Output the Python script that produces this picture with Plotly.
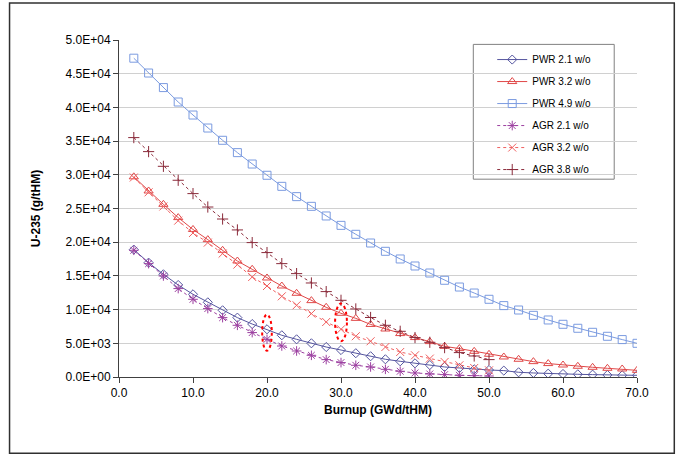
import plotly.graph_objects as go

# ---- data ----
burnup_pwr = [2, 4, 6, 8, 10, 12, 14, 16, 18, 20, 22, 24, 26, 28, 30, 32, 34, 36, 38, 40,
              42, 44, 46, 48, 50, 52, 54, 56, 58, 60, 62, 64, 66, 68, 70]
burnup_agr = [2, 4, 6, 8, 10, 12, 14, 16, 18, 20, 22, 24, 26, 28, 30, 32, 34, 36, 38, 40,
              42, 44, 46, 48, 50]

pwr_21 = [18900, 16970, 15240, 13650, 12270, 11080, 9900, 8810, 7860, 7080, 6190, 5590,
          5000, 4450, 4000, 3530, 3080, 2630, 2330, 2030, 1780, 1490, 1340, 1140, 1040,
          950, 700, 600, 500, 450, 400, 350, 300, 250, 250]
pwr_32 = [29700, 27600, 25620, 23650, 21890, 20380, 18800, 17210, 15980, 14690, 13500,
          12420, 11330, 10340, 9450, 8700, 7800, 7120, 6440, 5850, 5250, 4550, 4210, 3810,
          3370, 2970, 2630, 2280, 1990, 1780, 1590, 1440, 1290, 1190, 990]
pwr_49 = [47300, 45100, 42940, 40800, 38870, 36940, 35120, 33290, 31600, 29930, 28290,
          26760, 25320, 23890, 22500, 21170, 19880, 18650, 17510, 16470, 15430, 14350,
          13350, 12460, 11530, 10590, 9940, 9150, 8460, 7820, 7230, 6630, 6040, 5550, 5000]
agr_21 = [18800, 16820, 14990, 13120, 11530, 10150, 8810, 7670, 6590, 5590, 4600, 3860,
          3220, 2580, 2140, 1740, 1490, 1140, 850, 600, 450, 350, 250, 200, 150]
agr_32 = [29600, 27400, 25300, 23200, 21370, 19940, 18310, 16680, 14840, 13500, 11970,
          10640, 9410, 8160, 7080, 6050, 5300, 4450, 3710, 3220, 2730, 2230, 1740, 1340, 990]
agr_38 = [35520, 33440, 31260, 29190, 27210, 25220, 23440, 21820, 19940, 18460, 16820,
          15340, 13950, 12670, 11380, 10100, 8830, 7670, 6780, 5850, 5150, 4360, 3620,
          3120, 2580]

y_tickvals = [0, 5000, 10000, 15000, 20000, 25000, 30000, 35000, 40000, 45000, 50000]
y_ticktext = ["0.0E+00", "5.0E+03", "1.0E+04", "1.5E+04", "2.0E+04", "2.5E+04",
              "3.0E+04", "3.5E+04", "4.0E+04", "4.5E+04", "5.0E+04"]
x_tickvals = [0, 10, 20, 30, 40, 50, 60, 70]

series = [
    ("PWR 2.1 w/o", burnup_pwr, pwr_21, "#55559f", "diamond-open", "solid", 7),
    ("PWR 3.2 w/o", burnup_pwr, pwr_32, "#e04848", "triangle-up-open", "solid", 8),
    ("PWR 4.9 w/o", burnup_pwr, pwr_49, "#7b9be0", "square-open", "solid", 8),
    ("AGR 2.1 w/o", burnup_agr, agr_21, "#9c3fa0", "asterisk-open", "dot", 8),
    ("AGR 3.2 w/o", burnup_agr, agr_32, "#f06060", "x-thin-open", "dot", 8),
    ("AGR 3.8 w/o", burnup_agr, agr_38, "#8a2a3a", "cross-thin-open", "dot", 8),
]

fig = go.Figure()
for i, (name, xs, ys, col, sym, dash, sz) in enumerate(series):
    fig.add_trace(go.Scatter(
        x=xs, y=ys, name=name, mode="lines+markers",
        legendgroup=f"g{i}",
        line=dict(color=col, width=1, dash=dash),
        marker=dict(symbol=sym, size=sz, color=col, line=dict(color=col, width=1)),
    ))

FONT = "Liberation Sans, Arial, sans-serif"

shapes = [
    # outer frame
    dict(type="rect", xref="paper", yref="paper", x0=-0.2113, x1=1.072, y0=-0.2264, y1=1.110,
         line=dict(color="#303030", width=1.5), fillcolor="rgba(0,0,0,0)", layer="above"),
    # legend box
    dict(type="rect", xref="paper", yref="paper", x0=0.684, x1=0.956, y0=0.587, y1=0.987,
         line=dict(color="#808080", width=1), fillcolor="white", layer="between"),
    # ellipses
    dict(type="circle", xref="x", yref="y", x0=19.35, x1=20.65, y0=3900, y1=9260,
         line=dict(color="#ff0000", width=2, dash="dot"), layer="above"),
    dict(type="circle", xref="x", yref="y", x0=29.2, x1=30.8, y0=5300, y1=10890,
         line=dict(color="#ff0000", width=2, dash="dot"), layer="above"),
]

fig.update_layout(
    width=676, height=455,
    margin=dict(l=119.3, r=39.4, t=39.7, b=78.3),
    paper_bgcolor="white", plot_bgcolor="white",
    font=dict(family=FONT, size=12, color="#000000"),
    showlegend=True,
    legend=dict(x=0.7205, y=0.985, xanchor="left", yanchor="top",
                bgcolor="rgba(0,0,0,0)", borderwidth=0,
                traceorder="grouped", tracegroupgap=3,
                font=dict(family=FONT, size=10), itemwidth=30),
    shapes=shapes,
    xaxis=dict(range=[0, 70], tickvals=x_tickvals, tickformat=".1f",
               showgrid=False, zeroline=False, showline=True, linecolor="#404040",
               linewidth=1, ticks="outside", ticklen=5, tickcolor="#404040",
               tickfont=dict(size=12),
               title=dict(text="<b>Burnup (GWd/tHM)</b>", font=dict(size=12), standoff=6)),
    yaxis=dict(range=[0, 50000], tickvals=y_tickvals, ticktext=y_ticktext,
               showgrid=True, gridcolor="#d0d0d0", gridwidth=1, zeroline=False,
               showline=True, linecolor="#404040", linewidth=1,
               ticks="outside", ticklen=5, tickcolor="#404040",
               tickfont=dict(size=12),
               title=dict(text="<b>U-235 (g/tHM)</b>", font=dict(size=12), standoff=22)),
)

fig.write_html("out.html", config={"displayModeBar": False},
               post_script="document.body.style.margin='0';")
